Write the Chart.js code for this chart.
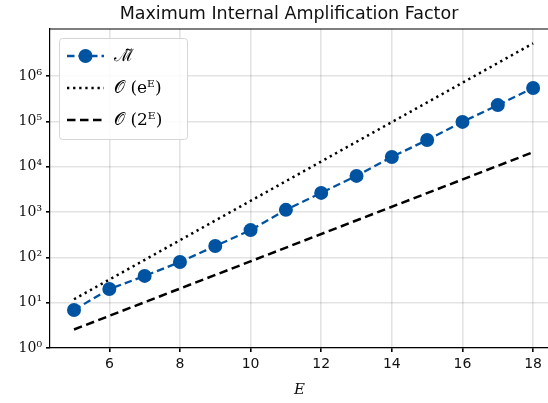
<!DOCTYPE html>
<html>
<head>
<meta charset="utf-8">
<script src="https://cdn.jsdelivr.net/npm/chart.js@4.4.1/dist/chart.umd.min.js"></script>
<style>
  html, body { margin: 0; padding: 0; background: #fff; overflow: hidden; }
  #wrap { width: 548px; height: 403px; overflow: hidden; }
</style>
</head>
<body>
<div id="wrap"><canvas id="ampChart" width="556" height="403"></canvas></div>
<script>
// values
const ePoints = [5, 6, 7, 8, 9, 10, 11, 12, 13, 14, 15, 16, 17, 18]
const mTilde = [6.9, 20, 39, 79, 178, 400, 1120, 2650, 6300, 16500, 39000, 98000, 230000, 550000]

// reference lines (straight on log axis, so the two ends are enough)
const refE = [5, 18]
const expRef = [11.9, 5.3e6]
const pow2Ref = [2.56, 21000]

const yTicks = [1, 10, 100, 1000, 10000, 100000, 1000000]
const supers = ['⁰', '¹', '²', '³', '⁴', '⁵', '⁶', '⁷']

const blue = '#0053a0'

function pairs(xs, ys) {
    return xs.map((x, i) => ({ x: x, y: ys[i] }))
}

// title, top spine and legend drawn by hand so they sit where matplotlib put them
const extras = {
    id: 'extras',
    afterDraw(chart) {
        const ctx = chart.ctx
        const a = chart.chartArea
        ctx.save()

        ctx.fillStyle = '#111'
        ctx.font = '17.5px "DejaVu Sans"'
        ctx.textAlign = 'center'
        ctx.textBaseline = 'alphabetic'
        ctx.fillText('Maximum Internal Amplification Factor', 289, 19)
        ctx.textAlign = 'left'

        // top spine
        ctx.strokeStyle = '#000'
        ctx.lineWidth = 1.2
        ctx.beginPath()
        ctx.moveTo(a.left, a.top)
        ctx.lineTo(a.right, a.top)
        ctx.stroke()

        const x0 = 59.5, y0 = 38.5, w = 128, h = 101
        ctx.fillStyle = 'rgba(255,255,255,0.85)'
        ctx.strokeStyle = '#d5d5d5'
        ctx.lineWidth = 1
        ctx.beginPath()
        ctx.roundRect(x0, y0, w, h, 3)
        ctx.fill()
        ctx.stroke()

        const labels = ['ℳ\u0303', '𝒪 (e\u1D31)', '𝒪 (2\u1D31)']
        const rows = [56, 88, 120]
        chart.data.datasets.forEach((ds, i) => {
            const y = rows[i]
            ctx.strokeStyle = ds.borderColor
            ctx.lineWidth = ds.borderWidth
            ctx.setLineDash(ds.borderDash)
            ctx.beginPath()
            ctx.moveTo(67, y)
            ctx.lineTo(104, y)
            ctx.stroke()
            ctx.setLineDash([])
            if (ds.pointRadius > 0) {
                ctx.fillStyle = ds.pointBackgroundColor
                ctx.beginPath()
                ctx.arc(85.5, y, ds.pointRadius, 0, Math.PI * 2)
                ctx.fill()
            }
            ctx.fillStyle = '#000'
            ctx.font = '17px "DejaVu Serif"'
            ctx.textBaseline = 'middle'
            ctx.fillText(labels[i], 114, y + 1)
        })
        ctx.restore()
    }
}

let ampChart = new Chart(document.getElementById('ampChart').getContext('2d'), {
    type: 'line',
    data: {
        datasets: [{
            label: 'M',
            data: pairs(ePoints, mTilde),
            borderColor: blue,
            backgroundColor: blue,
            borderWidth: 2.3,
            borderDash: [7.5, 4],
            pointRadius: 7,
            pointHoverRadius: 7,
            pointBackgroundColor: blue,
            pointBorderWidth: 0
        }, {
            label: 'O(e^E)',
            data: pairs(refE, expRef),
            borderColor: '#000',
            borderWidth: 2.5,
            borderDash: [2.3, 3.8],
            pointRadius: 0
        }, {
            label: 'O(2^E)',
            data: pairs(refE, pow2Ref),
            borderColor: '#000',
            borderWidth: 2.5,
            borderDash: [8.5, 4.5],
            pointRadius: 0
        }]
    },
    options: {
        responsive: false,
        animation: false,
        layout: { padding: { top: 29, left: 0, right: 0, bottom: 0 } },
        plugins: {
            legend: { display: false },
            tooltip: { enabled: false },
            title: { display: false }
        },
        scales: {
            x: {
                type: 'linear',
                min: 4.32,
                max: 18.45,
                afterFit: s => { s.height = 55 },
                afterBuildTicks: s => {
                    s.ticks = [6, 8, 10, 12, 14, 16, 18].map(v => ({ value: v }))
                },
                ticks: {
                    color: '#111',
                    font: { family: 'DejaVu Sans', size: 14 },
                    padding: 4,
                    maxRotation: 0
                },
                grid: { color: 'rgba(0,0,0,0.11)', lineWidth: 1.6, tickColor: '#000', tickLength: 4 },
                border: { color: '#000', width: 1.2 },
                title: {
                    display: true,
                    text: 'E',
                    color: '#111',
                    font: { family: 'DejaVu Serif', size: 15, style: 'italic' },
                    padding: { top: 0 }
                }
            },
            y: {
                type: 'logarithmic',
                min: 1,
                max: 1.1e7,
                afterFit: s => { s.width = 50 },
                afterBuildTicks: s => {
                    s.ticks = yTicks.map(v => ({ value: v, major: true }))
                },
                ticks: {
                    color: '#111',
                    font: { family: 'DejaVu Serif', size: 14 },
                    padding: 4,
                    callback: v => '10' + supers[Math.round(Math.log10(v))]
                },
                grid: { color: 'rgba(0,0,0,0.11)', lineWidth: 1.6, tickColor: '#000', tickLength: 4 },
                border: { color: '#000', width: 1.2 }
            }
        }
    },
    plugins: [extras]
});
</script>
</body>
</html>
